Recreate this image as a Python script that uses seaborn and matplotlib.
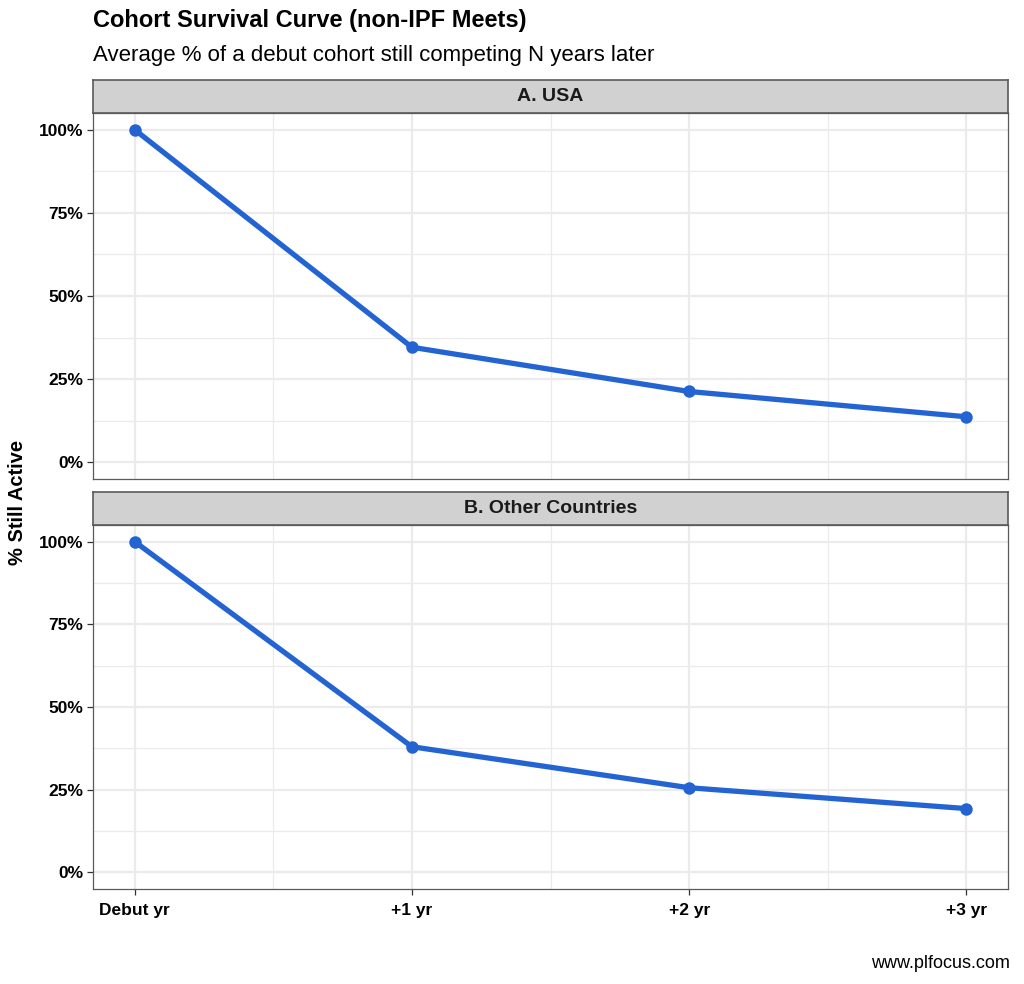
import matplotlib
matplotlib.use("Agg")
import matplotlib.pyplot as plt
import seaborn as sns
import pandas as pd
from matplotlib.ticker import FixedLocator, PercentFormatter

years = ["Debut yr", "+1 yr", "+2 yr", "+3 yr"]
year_pos = [0, 1, 2, 3]
usa_values = [1.000, 0.346, 0.213, 0.137]
other_values = [1.000, 0.380, 0.256, 0.193]
panels = ["A. USA", "B. Other Countries"]

df = pd.DataFrame({
    "panel": [panels[0]] * 4 + [panels[1]] * 4,
    "x": year_pos * 2,
    "value": usa_values + other_values,
})

sns.set_theme(style="white")
plt.rcParams["font.family"] = ["Liberation Sans", "DejaVu Sans"]
plt.rcParams["text.color"] = "black"

fig = plt.figure(figsize=(10.24, 9.84), dpi=100)
W, H = 1024, 984
left, right = 93 / W, 1008 / W
boxes = [(113, 479, 80), (525, 889, 492)]
line_color = "#2364D2"
border = "#5A5A5A"

for (top, bot, strip_top), name in zip(boxes, panels):
    ax = fig.add_axes([left, 1 - bot / H, right - left, (bot - top) / H])
    sub = df[df["panel"] == name]
    sns.lineplot(data=sub, x="x", y="value", ax=ax, color=line_color,
                 linewidth=3.8, marker="o", markersize=9,
                 markeredgewidth=0, markerfacecolor=line_color)
    ax.set_xlim(-0.15, 3.15)
    ax.set_ylim(-0.05, 1.05)
    ax.xaxis.set_major_locator(FixedLocator(year_pos))
    ax.xaxis.set_minor_locator(FixedLocator([0.5, 1.5, 2.5]))
    ax.yaxis.set_major_locator(FixedLocator([0, 0.25, 0.5, 0.75, 1.0]))
    ax.yaxis.set_minor_locator(FixedLocator([0.125, 0.375, 0.625, 0.875]))
    ax.yaxis.set_major_formatter(PercentFormatter(1.0, decimals=0))
    ax.grid(which="major", color="#EBEBEB", linewidth=1.6)
    ax.grid(which="minor", color="#EBEBEB", linewidth=0.9)
    ax.set_axisbelow(True)
    for s in ax.spines.values():
        s.set_color(border)
        s.set_linewidth(0.9)
    ax.tick_params(axis="both", which="major", length=4, width=0.9,
                   color="#333333", labelsize=12.5, labelcolor="black", pad=3,
                   direction="out", bottom=True, left=True)
    ax.tick_params(axis="x", which="major", pad=6)
    ax.tick_params(which="minor", length=0)
    for lab in ax.get_yticklabels():
        lab.set_fontweight("bold")
    ax.set_xlabel("")
    ax.set_ylabel("")
    if name == panels[1]:
        ax.set_xticklabels(years, fontweight="bold", fontsize=12.5)
    else:
        ax.tick_params(axis="x", which="major", length=0, labelbottom=False)
    # strip
    sax = fig.add_axes([left, 1 - top / H, right - left, (top - strip_top) / H])
    sax.set_facecolor("#D1D1D1")
    sax.set_xticks([])
    sax.set_yticks([])
    for s in sax.spines.values():
        s.set_color(border)
        s.set_linewidth(1.2)
    sax.text(0.5, 0.5, name, ha="center", va="center", fontsize=14,
             fontweight="bold", color="#1A1A1A", transform=sax.transAxes)

fig.text(93 / W, 1 - 21 / H, "Cohort Survival Curve (non-IPF Meets)",
         ha="left", va="center", fontsize=17, fontweight="bold", color="black")
fig.text(93 / W, 1 - 56 / H, "Average % of a debut cohort still competing N years later",
         ha="left", va="center", fontsize=16, color="black")
fig.text(18 / W, 1 - 502 / H, "% Still Active", rotation=90, ha="center",
         va="center", fontsize=14.5, fontweight="bold", color="black")
fig.text(1010 / W, 1 - 964 / H, "www.plfocus.com", ha="right", va="center",
         fontsize=13, color="black")

fig.savefig("out.png", dpi=100, facecolor="white")
